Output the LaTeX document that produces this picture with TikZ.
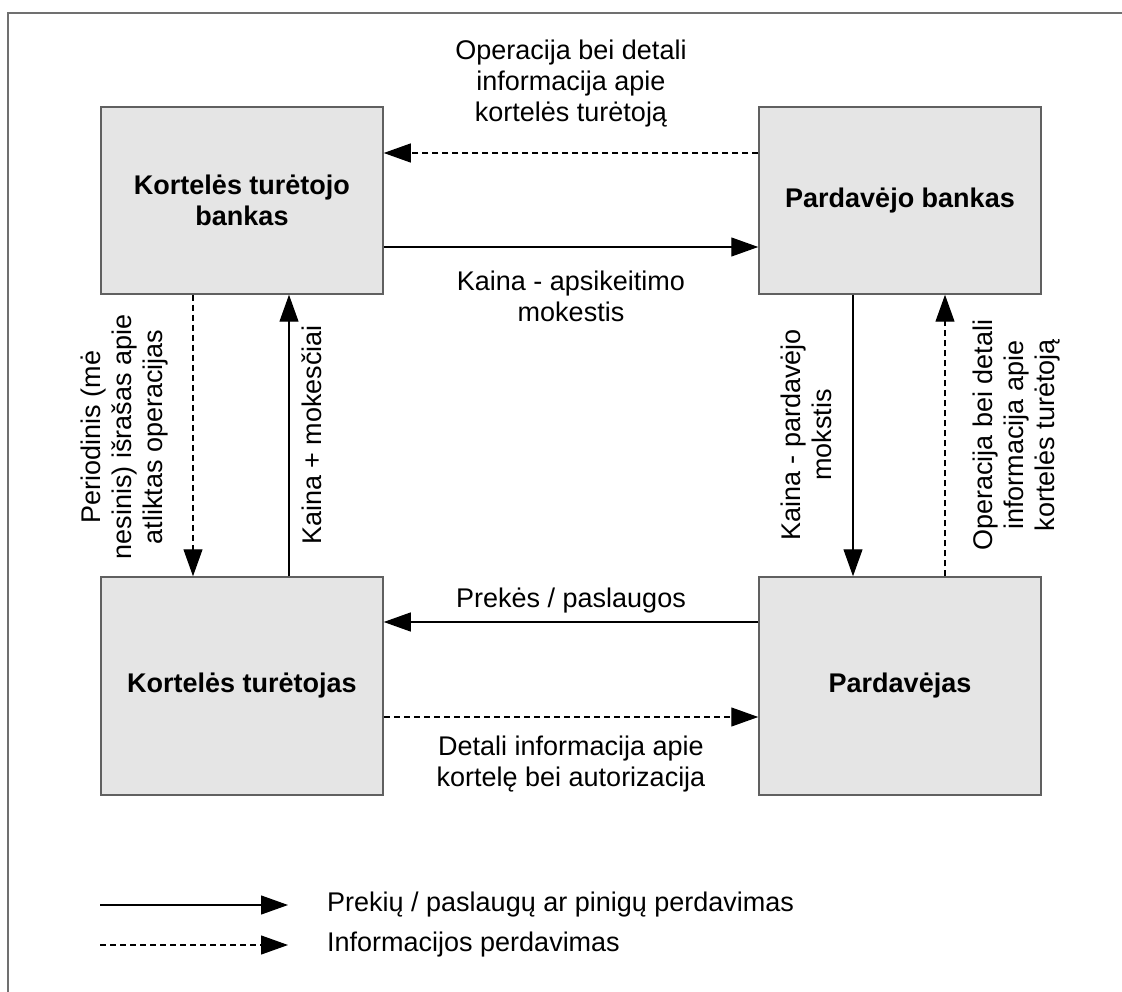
\documentclass[tikz,border=0pt]{standalone}
\usepackage{fontspec}
\setmainfont{Liberation Sans}
\usetikzlibrary{arrows.meta}
\definecolor{boxline}{RGB}{96,96,96}
\definecolor{boxfill}{RGB}{229,229,229}
\definecolor{frameline}{RGB}{112,112,112}
\begin{document}
\begin{tikzpicture}[x=1pt,y=1pt,
  box/.style={draw=boxline, line width=1.5pt, fill=boxfill, minimum width=282pt,
    align=center, font=\fontsize{27}{31}\selectfont\bfseries, inner sep=0pt},
  flow/.style={line width=1.2pt, -{Triangle[length=27pt,width=19pt]}},
  info/.style={flow, dash pattern=on 6pt off 4pt},
  lbl/.style={align=center, font=\fontsize{27}{31}\selectfont, inner sep=0pt},
]
\useasboundingbox (0,0) rectangle (1122,-992);
% frame
\draw[frameline, line width=2pt] (8,-992) -- (8,-13) -- (1122,-13);

% boxes
\node[box, minimum height=187pt] (ktb) at (242,-200.5) {Kortelės turėtojo\\bankas};
\node[box, minimum height=187pt] (pb)  at (900,-200.5) {Pardavėjo bankas};
\node[box, minimum height=218pt] (kt)  at (242,-686) {Kortelės turėtojas};
\node[box, minimum height=218pt] (pd)  at (900,-686) {Pardavėjas};

% guide coordinates
\coordinate (ya) at (0,-153);
\coordinate (yb) at (0,-247);
\coordinate (yc) at (0,-622);
\coordinate (yd) at (0,-717);
\coordinate (xa) at (193,0);
\coordinate (xb) at (289,0);
\coordinate (xc) at (853,0);
\coordinate (xd) at (945,0);

% horizontal connectors
\draw[info] (pb.west |- ya) -- (ktb.east |- ya);
\draw[flow] (ktb.east |- yb) -- (pb.west |- yb);
\draw[flow] (pd.west |- yc) -- (kt.east |- yc);
\draw[info] (kt.east |- yd) -- (pd.west |- yd);

% vertical connectors
\draw[info] (ktb.south -| xa) -- (kt.north -| xa);
\draw[flow] (kt.north -| xb) -- (ktb.south -| xb);
\draw[flow] (pb.south -| xc) -- (pd.north -| xc);
\draw[info] (pd.north -| xd) -- (pb.south -| xd);

% labels
\node[lbl] (t1) at (571,-84) {Operacija bei detali\\informacija apie\\kortelės turėtoją};
\node[lbl] (t2) at (571,-296) {Kaina - apsikeitimo\\mokestis};
\node[lbl] (t3) at (571,-601) {Prekės / paslaugos};
\node[lbl] (t4) at (571,-764) {Detali informacija apie\\kortelę bei autorizacija};
\node[lbl, rotate=90] (t5) at (125,-437) {Periodinis (mė\\nesinis) išrašas apie\\atliktas operacijas};
\node[lbl, rotate=90] (t6) at (312,-435) {Kaina + mokesčiai};
\node[lbl, rotate=90] (t7) at (806,-435) {Kaina - pardavėjo\\mokstis};
\node[lbl, rotate=90] (t8) at (1017,-435) {Operacija bei detali\\informacija apie\\kortelės turėtoją};

% legend
\coordinate (la) at (100,-905);
\coordinate (lb) at (288,-905);
\coordinate (lc) at (100,-945);
\coordinate (ld) at (288,-945);
\draw[flow] (la) -- (lb);
\draw[info] (lc) -- (ld);
\node[lbl, anchor=west] (leg1) at (327,-905) {Prekių / paslaugų ar pinigų perdavimas};
\node[lbl, anchor=west] (leg2) at (327,-945) {Informacijos perdavimas};
\end{tikzpicture}
\end{document}
